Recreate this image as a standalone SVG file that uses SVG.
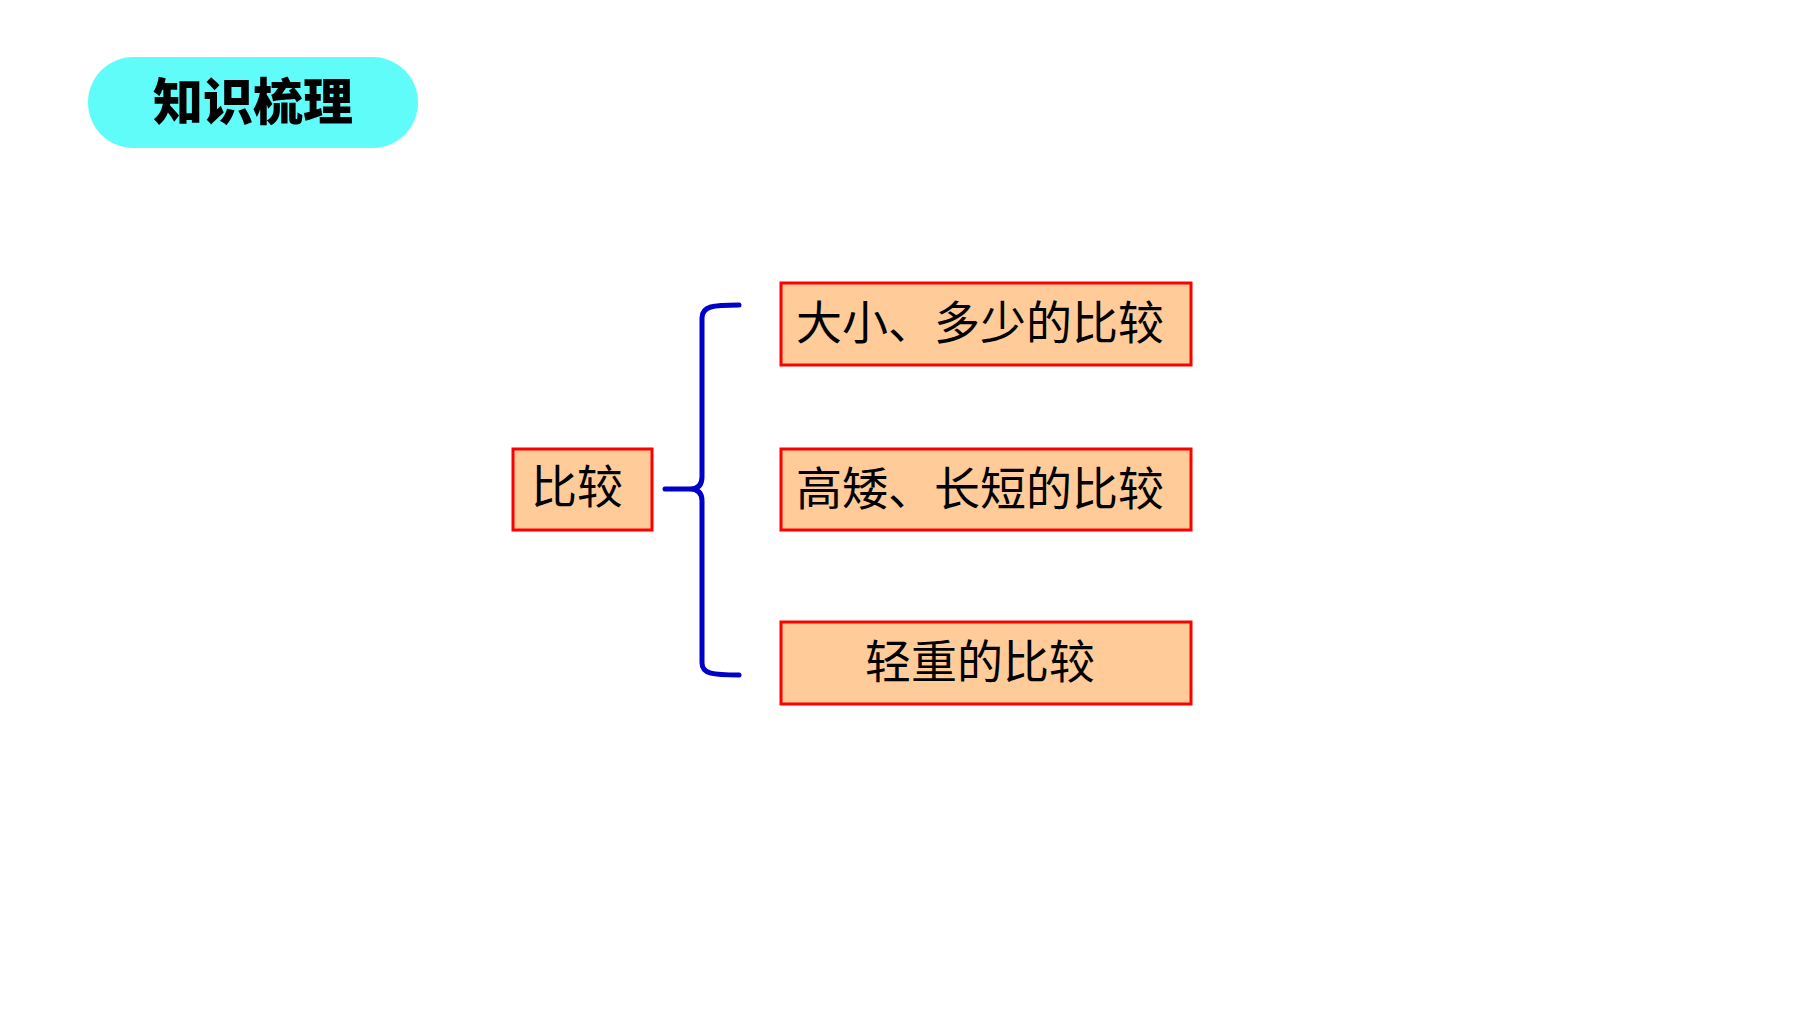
<svg xmlns="http://www.w3.org/2000/svg" width="1800" height="1012" viewBox="0 0 1800 1012">
<style>
.box{fill:#FFCC99;stroke:#FF0000;stroke-width:3}
.t{font-family:"Noto Sans CJK SC","Microsoft YaHei",sans-serif;fill:#000;text-anchor:middle}
.b{font-size:46px}
.brace{fill:none;stroke:#0000C8;stroke-width:5;stroke-linecap:round;stroke-linejoin:round}
</style>
<rect width="1800" height="1012" fill="#FFFFFF"/>
<g id="title">
<rect x="88" y="57" width="330" height="91" rx="45.5" fill="#5FFCFA"/>
<text class="t" x="253" y="120" font-size="50" font-weight="900">知识梳理</text>
</g>
<g id="root">
<rect class="box" x="513" y="449" width="139" height="81"/>
<text class="t" x="577" y="503" font-size="46">比较</text>
</g>
<g id="n1">
<rect class="box" x="781" y="283" width="410" height="82"/>
<text class="t b" x="980" y="339">大小、多少的比较</text>
</g>
<g id="n2">
<rect class="box" x="781" y="449" width="410" height="81"/>
<text class="t b" x="980" y="505">高矮、长短的比较</text>
</g>
<g id="n3">
<rect class="box" x="781" y="622" width="410" height="82"/>
<text class="t b" x="980" y="678">轻重的比较</text>
</g>
<g id="connectors">
<path class="brace" d="M739,305 C713,305 702,306 702,318 L702,477 Q702,489 690,489 L665,489 M690,489 Q702,489 702,501 L702,663 C702,674 713,675 739,675"/>
</g>
</svg>
